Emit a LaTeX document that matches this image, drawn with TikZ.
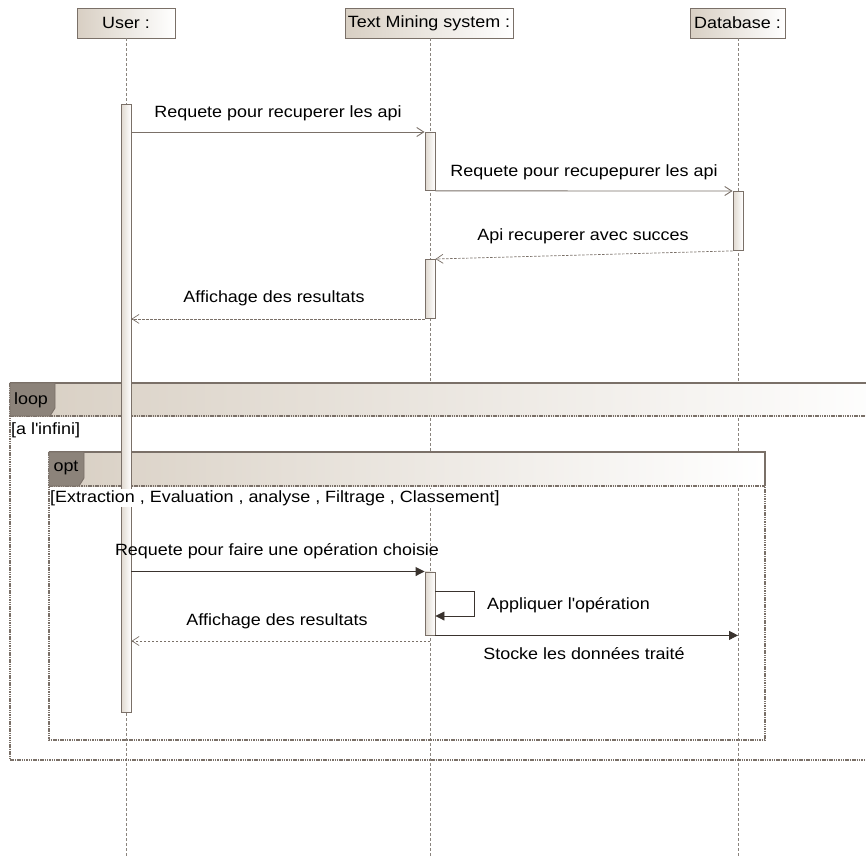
\documentclass[tikz,border=0pt]{standalone}
\usepackage{fontspec}
\setmainfont{Liberation Sans}[FakeStretch=1.1]
\usetikzlibrary{arrows.meta}
\definecolor{edge}{HTML}{7A7068}
\definecolor{tan}{HTML}{D8CFC3}
\definecolor{tabfill}{HTML}{8C837A}
\definecolor{life}{HTML}{8A847E}
\definecolor{ink}{HTML}{3A332E}
\tikzset{
  x=1pt, y=-1pt,
  txt/.style={font=\fontsize{16.3}{19}\selectfont, inner sep=0pt, text=black},
  actor/.style={draw=edge, line width=0.9pt, left color=tan, right color=white, minimum height=30pt, inner sep=0pt},
  actbar/.style={draw=edge, line width=0.9pt, left color=tan!80, right color=white, minimum width=10pt, inner sep=0pt, anchor=north},
  lifeline/.style={draw=life, line width=0.7pt, dash pattern=on 3pt off 2pt},
  call/.style={draw=edge, line width=0.9pt, -{Straight Barb[length=7pt,width=9pt]}},
  reply/.style={draw=edge, line width=0.7pt, dash pattern=on 2.5pt off 1.5pt, -{Straight Barb[length=7pt,width=9pt]}},
  sync/.style={draw=ink, line width=0.9pt, -{Triangle[length=9pt,width=9pt]}},
  framedash/.style={draw=edge, line width=1.2pt, dash pattern=on 1.5pt off 0.8pt},
  frametop/.style={draw=edge, line width=1.1pt},
}
\begin{document}
\begin{tikzpicture}
\useasboundingbox (0,0) rectangle (866,857);

% lifeline heads
\node[actor, minimum width=98pt] (user) at (126,23) {};
\node[txt] at (user) {User :};
\node[actor, minimum width=168pt] (tms) at (429,23) {};
\node[txt] at (tms) {Text Mining system :};
\node[actor, minimum width=95pt] (db) at (737.5,23) {};
\node[txt] at (db) {Database :};

% lifelines
\coordinate (userEnd) at (126,857);
\coordinate (tmsEnd) at (430,857);
\coordinate (dbEnd) at (738,857);
\draw[lifeline] (user.south) -- (userEnd);
\draw[lifeline] (tms.south -| tmsEnd) -- (tmsEnd);
\draw[lifeline] (db.south -| dbEnd) -- (dbEnd);

% loop frame
\shade[left color=tan, right color=white] (10,383) rectangle (900,416);
\draw[frametop] (10,383) -- (866,383);
\draw[framedash] (10,416) -- (866,416);
\draw[framedash] (10,383) -- (10,760) -- (866,760);
\draw[fill=tabfill, draw=edge, line width=0.9pt] (10,383) -- (55,383) -- (55,408) -- (50,416) -- (10,416) -- cycle;
\node[txt, anchor=center] (looplbl) at (31,400) {loop};

% opt frame
\shade[left color=tan, right color=white] (49,452) rectangle (765,486);
\draw[frametop] (49,452) -- (765,452) -- (765,486);
\draw[framedash] (49,486) -- (765,486);
\draw[framedash] (49,452) -- (49,740) -- (765,740) -- (765,486);
\draw[fill=tabfill, draw=edge, line width=0.9pt] (49,452) -- (84,452) -- (84,478) -- (79,486) -- (49,486) -- cycle;
\node[txt, anchor=center] (optlbl) at (66,468) {opt};

% activation bars
\node[actbar, minimum height=608pt] (ub) at (126,104) {};
\node[actbar, minimum height=58pt] (tb1) at (430,132) {};
\node[actbar, minimum height=59pt] (db1) at (738,191) {};
\node[actbar, minimum height=59pt] (tb2) at (430,259) {};
\node[actbar, minimum height=63pt] (tb3) at (430,571.5) {};

% guards, set over the bars
\node[txt, anchor=west] (loopguard) at (11,430) {[a l\textquotesingle infini]};
\node[txt, anchor=west, fill=white, inner ysep=1pt] (optguard) at (50,498) {[Extraction , Evaluation , analyse , Filtrage , Classement]};

% messages before the loop
\draw[call] (ub.east |- tb1.north) -- (tb1.north west);
\node[txt] at (278,113) {Requete pour recuperer les api};

\draw[call] (tb1.south east) -- (db1.north west);
\node[txt] at (584,172) {Requete pour recupepurer les api};

\draw[reply] (db1.south west) -- (tb2.north east);
\node[txt] at (583,236) {Api recuperer avec succes};

\draw[reply] (tb2.south west) -- (ub.east |- tb2.south);
\node[txt] at (274,298) {Affichage des resultats};

% messages inside the opt fragment
\draw[sync] (ub.east |- tb3.north) -- (tb3.north west);
\node[txt] at (277,551) {Requete pour faire une opération choisie};

\coordinate (selfA) at (474,591);
\coordinate (selfB) at (474,616);
\draw[sync] (tb3.east |- selfA) -- (selfA) -- (selfB) -- (tb3.east |- selfB);
\node[txt, anchor=west] at (487,605) {Appliquer l\textquotesingle opération};

\coordinate (retY) at (0,641);
\draw[reply] (tmsEnd |- retY) -- (ub.east |- retY);
\node[txt] at (277,621) {Affichage des resultats};

\draw[sync] (tb3.south east) -- (dbEnd |- tb3.south);
\node[txt] at (584,654) {Stocke les données traité};
\end{tikzpicture}
\end{document}
